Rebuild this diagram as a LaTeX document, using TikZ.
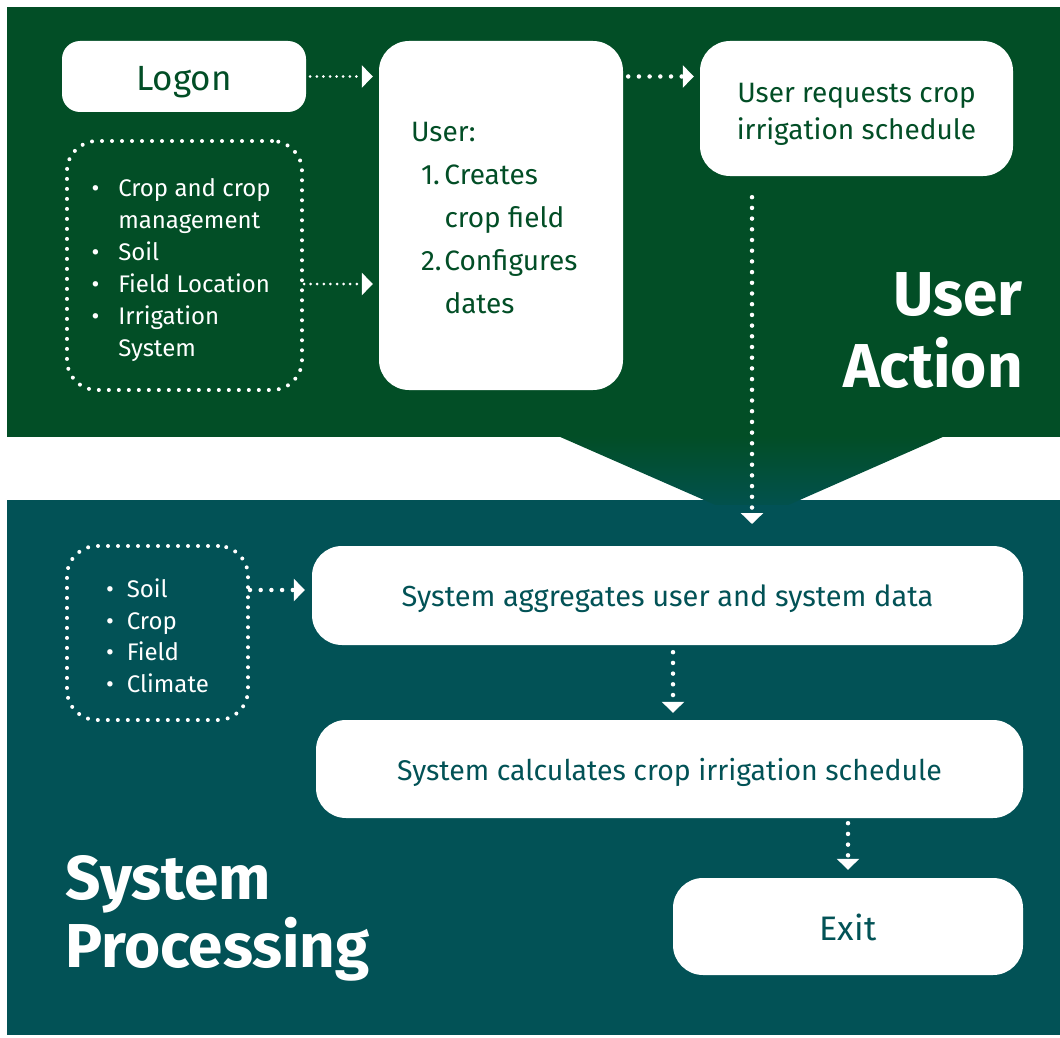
\documentclass[tikz,border=0pt]{standalone}
\usepackage{fontspec}
\setmainfont{Fira Sans}
\usetikzlibrary{arrows.meta}

\definecolor{actgreen}{RGB}{2,78,38}
\definecolor{proteal}{RGB}{2,82,86}

\begin{document}
\begin{tikzpicture}[x=1pt,y=-1pt,
  box/.style={fill=white,rounded corners=30pt,inner sep=0pt},
  dotbox/.style={draw=white,line width=4pt,line cap=round,dash pattern=on 0pt off 10pt,rounded corners=30pt,inner sep=0pt,text=white},
  flow/.style={draw=white,line width=3pt,line cap=round,dash pattern=on 0pt off 6.6pt,-{Triangle[length=11pt,width=22pt]}},
  bigflow/.style={flow,line width=4.5pt,dash pattern=on 0pt off 10.7pt},
  heading/.style={text=white,font=\fontsize{62}{72}\selectfont\bfseries,inner sep=0pt}]
\useasboundingbox[fill=white](0,0) rectangle (1060,1038);
% bands
\fill[proteal](7,500) rectangle (1060,1035);
\fill[actgreen](7,7) rectangle (1060,437);
\shade[top color=actgreen,bottom color=proteal](558,436) -- (945,436) -- (752,521) -- cycle;
\fill[proteal](7,505) rectangle (1060,1035);
% user action
\node[box,rounded corners=18pt,minimum width=244pt,minimum height=71pt,text=actgreen,text height=29pt,text depth=0pt,font=\fontsize{35}{40}\selectfont] (logon) at (184,76.5) {Logon};
\node[box,minimum width=244pt,minimum height=349pt,text=actgreen,text height=120.5pt,text depth=100.5pt,font=\fontsize{28}{43}\selectfont] (user) at (501,215.5)
  {\makebox[180pt][l]{\begin{tabular}{@{}l@{\,}l@{}}
   \multicolumn{2}{@{}l@{}}{User:}\\
   \hspace*{10pt}1. & Creates\\
   & crop field\\
   \hspace*{10pt}2.\hspace*{-4pt} & Configures\\
   & dates
   \end{tabular}}};
\node[box,minimum width=313pt,minimum height=135pt,text=actgreen,text height=52pt,text depth=30pt,font=\fontsize{28}{37}\selectfont] (request) at (856.5,108.5)
  {\begin{tabular}{@{}c@{}}User requests crop\\irrigation schedule\end{tabular}};
\node[dotbox,minimum width=235pt,minimum height=249pt,text height=112pt,text depth=90pt,font=\fontsize{24}{32}\selectfont] (inputs) at (184.5,265.5)
  {\makebox[186pt][l]{\begin{tabular}{@{}l@{\hspace{19pt}}l@{}}
   \textbullet & Crop and crop\\
   & management\\
   \textbullet & Soil\\
   \textbullet & Field Location\\
   \textbullet & Irrigation\\
   & System
   \end{tabular}}};
\node[heading,anchor=east,align=right] (action) at (1023,331) {User\\Action};
% system processing
\node[dotbox,minimum width=181pt,minimum height=174pt,text height=81.4pt,text depth=57.4pt,font=\fontsize{24}{31.7}\selectfont] (sysdata) at (157.5,633)
  {\begin{tabular}{@{}l@{\hspace{13pt}}l@{}}
   \textbullet & Soil\\
   \textbullet & Crop\\
   \textbullet & Field\\
   \textbullet & Climate
   \end{tabular}};
\node[box,minimum width=711pt,minimum height=99pt,text=proteal,text height=22pt,text depth=0pt,font=\fontsize{29}{34}\selectfont] (aggregate) at (667.5,595.5) {System aggregates user and system data};
\node[box,minimum width=707pt,minimum height=98pt,text=proteal,text height=22pt,text depth=0pt,font=\fontsize{28.5}{34}\selectfont] (calc) at (669.5,769) {System calculates crop irrigation schedule};
\node[box,minimum width=350pt,minimum height=97pt,text=proteal,text height=27pt,text depth=0pt,font=\fontsize{34}{40}\selectfont] (exit) at (848,926.5) {Exit};
\node[heading,anchor=west,align=left,font=\fontsize{62}{68}\selectfont\bfseries] (processing) at (65,918) {System\\Processing};
% connectors
\coordinate (drop) at (752,524);
\draw[flow,shorten <=4pt,shorten >=6pt] (logon.east) -- (logon.east -| user.west);
\draw[flow,shorten >=6pt] ([yshift=-18.5pt]inputs.east) -- ([yshift=-18.5pt]inputs.east -| user.west);
\draw[bigflow,shorten <=5pt,shorten >=6pt] (user.east |- logon) -- (request.west |- logon);
\draw[bigflow,shorten <=21pt] (request.south -| drop) -- (drop);
\draw[bigflow,shorten >=7pt] ([yshift=43pt]sysdata.east) -- ([yshift=43pt]sysdata.east -| aggregate.west);
\draw[bigflow,shorten <=7pt,shorten >=7pt] ([xshift=5.5pt]aggregate.south) -- ([xshift=5.5pt]aggregate.south |- calc.north);
\draw[bigflow,shorten <=5pt,shorten >=8pt] (calc.south -| exit.north) -- (exit.north);
\end{tikzpicture}
\end{document}
